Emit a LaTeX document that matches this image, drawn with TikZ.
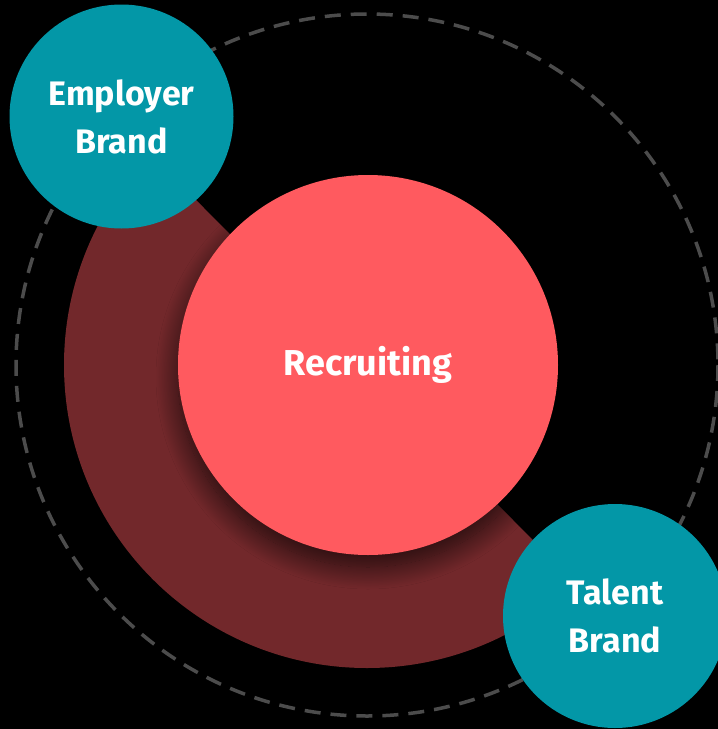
\documentclass[tikz,border=0pt]{standalone}
\usepackage{fontspec}
\setmainfont{Fira Sans}
\usetikzlibrary{shadows.blur}
\definecolor{teal1}{HTML}{0397A7}
\definecolor{coral}{HTML}{FF5A5F}
\definecolor{band}{HTML}{72282B}
\definecolor{dashgray}{HTML}{4C4C4C}
\tikzset{
  brand/.style={circle, fill=teal1, minimum size=224pt, inner sep=0pt, text=white,
    font=\bfseries\fontsize{34}{48}\selectfont, align=center},
  core/.style={circle, fill=coral, minimum size=380pt, inner sep=0pt, text=white,
    font=\bfseries\fontsize{36}{48}\selectfont, align=center,
    blur shadow={shadow xshift=0pt, shadow yshift=-12pt, shadow blur radius=22pt, shadow opacity=70, shadow blur steps=30}}
}
\begin{document}
\begin{tikzpicture}[x=1pt,y=-1pt]
\fill[black] (0,0) rectangle (718,729);
\useasboundingbox (0,0) rectangle (718,729);
\coordinate (c) at (367,365);
\draw[dashgray, line width=3.5pt, dash pattern=on 16pt off 10pt] (c) circle[radius=351];
\begin{scope}
\clip (0,729) -- (0,-2) -- (-2,0) -- (718+2,729+0) -- cycle;
\fill[band] (c) circle[radius=303];
\end{scope}
\begin{scope}
\clip (c) circle[radius=303];
\node[core] (rec) at (368,365) {\raisebox{-2pt}{Recruiting}};
\end{scope}
\node[brand] (emp) at (121.5,116.5) {Employer\\Brand};
\node[brand] (tal) at (615,616) {Talent\\Brand};
\end{tikzpicture}
\end{document}
